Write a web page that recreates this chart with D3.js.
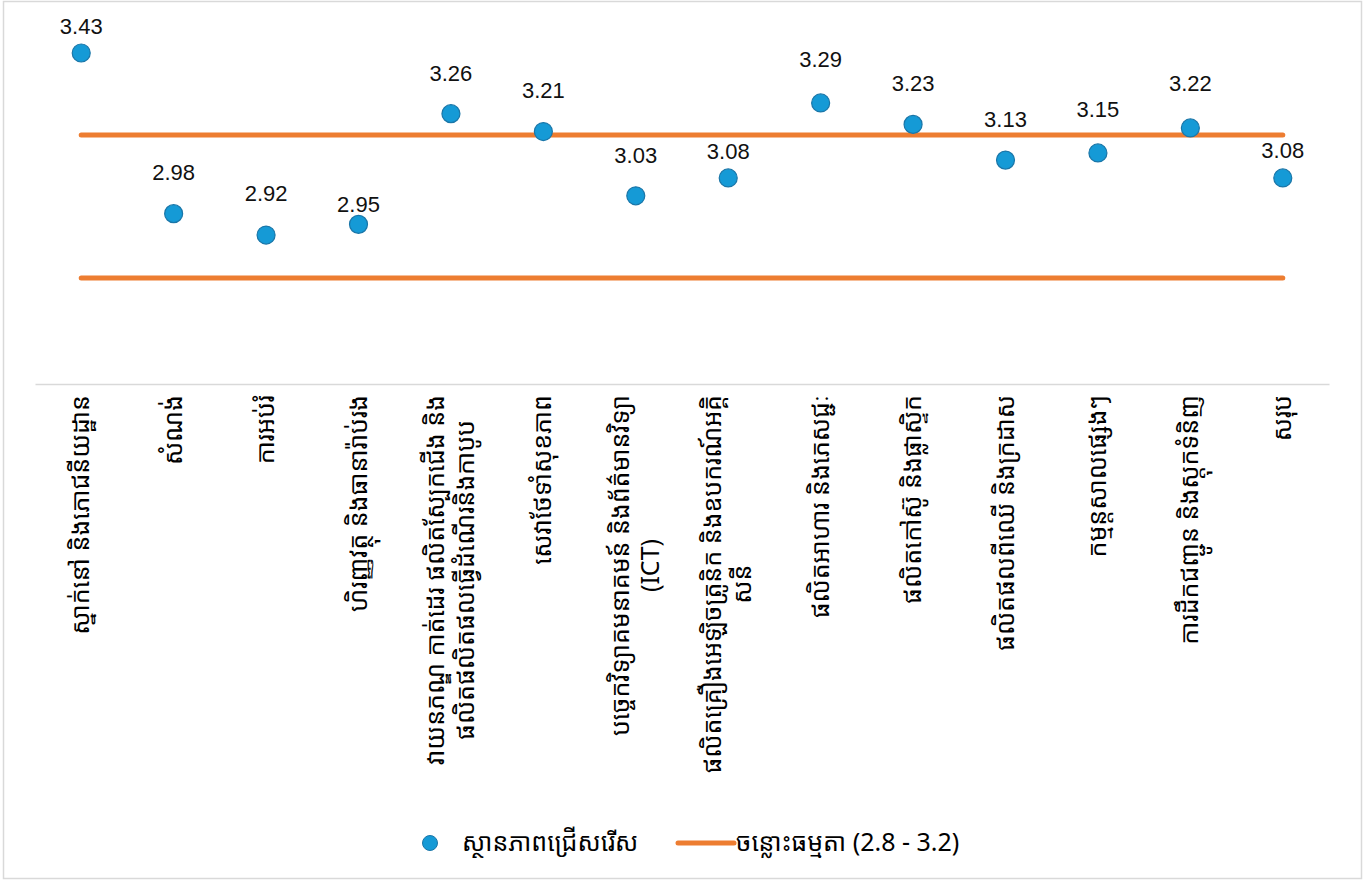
<!DOCTYPE html>
<html>
<head>
<meta charset="utf-8">
<script src="https://cdn.jsdelivr.net/npm/d3@7"></script>
<style>
  body { margin: 0; background: #fff; }
  svg { font-family: "Liberation Sans", Arial, sans-serif; }
</style>
</head>
<body>
<div id="chart"></div>
<script>
// sectors, read bottom-to-top on the rotated axis
var sectors = [
    ["ស្នាក់នៅ និងភោជនីយដ្ឋាន"],
    ["សំណង់"],
    ["ការអប់រំ"],
    ["ហិរញ្ញវត្ថុ និងធានារ៉ាប់រង"],
    ["វាយនភណ្ឌ កាត់ដេរ ផលិតស្បែកជើង និង", "ផលិតផលិតផលធ្វើដំណើរនិងកាបូប"],
    ["សេវាថែទាំសុខភាព"],
    ["បច្ចេកវិទ្យាគមនាគមន៍ និងព័ត៌មានវិទ្យា", "(ICT)"],
    ["ផលិតគ្រឿងអេឡិចត្រូនិក និងឧបករណ៍អគ្គិ", "សនី"],
    ["ផលិតអាហារ និងភេសជ្ជៈ"],
    ["ផលិតកៅស៊ូ និងផ្លាស្ទិក"],
    ["ផលិតផលពីឈើ និងក្រដាស"],
    ["កម្មន្តសាលផ្សេងៗ"],
    ["ការដឹកជញ្ជូន និងស្តុកទំនិញ"],
    ["សរុប"]
];
var scores = [3.43, 2.98, 2.92, 2.95, 3.26, 3.21, 3.03, 3.08, 3.29, 3.23, 3.13, 3.15, 3.22, 3.08];
// how far each value label sits above its dot (labels were hand-placed)
var labelLift = [19, 34, 34, 12, 33, 34, 33, 19, 36, 33, 33, 36, 37, 20];
var normalLow = 2.8;
var normalHigh = 3.2;
var legendDot = "ស្ថានភាពជ្រើសរើស";
var legendLine = "ចន្លោះធម្មតា (2.8 - 3.2)";

var width = 1367, height = 881;
var khmer = "'Noto Sans Khmer', 'Khmer OS', 'Noto Sans', sans-serif";

var svg = d3.select("#chart").append("svg")
    .attr("width", width)
    .attr("height", height);

svg.append("rect")
    .attr("x", 3.5).attr("y", 1.5)
    .attr("width", 1358).attr("height", 877)
    .attr("fill", "#fff")
    .attr("stroke", "#d9d9d9")
    .attr("stroke-width", 1.5);

var x = d3.scaleBand()
    .domain(d3.range(sectors.length))
    .range([35, 1329]);

var y = d3.scaleLinear()
    .domain([2.5, 3.5])
    .range([385, 28]);

// category axis
var xAxis = svg.append("g")
    .attr("transform", "translate(0," + (y(2.5) - 1) + ")")
    .call(d3.axisBottom(x).tickSize(0).tickFormat(""));
xAxis.select(".domain").attr("stroke", "#d9d9d9").attr("stroke-width", 1.5);

var labels = svg.append("g")
    .selectAll("text")
    .data(sectors)
    .enter()
    .append("text")
    .attr("transform", function(d, i) {
        return "translate(" + (x(i) + x.bandwidth() / 2) + ",395) rotate(-90)";
    })
    .style("font-family", khmer)
    .style("font-size", "25px")
    .attr("fill", "#000");

labels.each(function(d) {
    var g = d3.select(this);
    var first = g.append("tspan")
        .attr("x", 0)
        .attr("y", (-(d.length - 1) / 2) * 30 + 8)
        .attr("text-anchor", "end")
        .text(d[0]);
    var len = first.node().getComputedTextLength();
    for (var k = 1; k < d.length; k++) {
        g.append("tspan")
            .attr("x", -len / 2)
            .attr("y", (k - (d.length - 1) / 2) * 30 + 8)
            .attr("text-anchor", "middle")
            .text(d[k]);
    }
});

// normal range lines
var xFirst = x(0) + x.bandwidth() / 2;
var xLast = x(sectors.length - 1) + x.bandwidth() / 2;
[normalHigh, normalLow].forEach(function(v) {
    svg.append("line")
        .attr("x1", xFirst).attr("x2", xLast)
        .attr("y1", y(v)).attr("y2", y(v))
        .attr("stroke", "#ed7d31")
        .attr("stroke-width", 5)
        .attr("stroke-linecap", "round");
});

// points
svg.append("g")
    .selectAll("circle")
    .data(scores)
    .enter()
    .append("circle")
    .attr("cx", function(d, i) { return x(i) + x.bandwidth() / 2; })
    .attr("cy", function(d) { return y(d); })
    .attr("r", 9)
    .attr("fill", "#159ad6")
    .attr("stroke", "#1a76a8")
    .attr("stroke-width", 1.2);

svg.append("g")
    .selectAll("text")
    .data(scores)
    .enter()
    .append("text")
    .attr("x", function(d, i) { return x(i) + x.bandwidth() / 2; })
    .attr("y", function(d, i) { return y(d) - labelLift[i]; })
    .attr("text-anchor", "middle")
    .style("font-size", "22px")
    .style("font-weight", "normal")
    .attr("fill", "#111")
    .text(function(d) { return d.toFixed(2); });

// legend
var legend = svg.append("g");
legend.append("circle")
    .attr("cx", 430).attr("cy", 843).attr("r", 7.5)
    .attr("fill", "#159ad6").attr("stroke", "#1a76a8").attr("stroke-width", 1);
legend.append("text")
    .attr("x", 462).attr("y", 851)
    .style("font-family", khmer)
    .style("font-size", "25px")
    .text(legendDot);
legend.append("line")
    .attr("x1", 678).attr("x2", 734)
    .attr("y1", 843).attr("y2", 843)
    .attr("stroke", "#ed7d31").attr("stroke-width", 5).attr("stroke-linecap", "round");
legend.append("text")
    .attr("x", 736).attr("y", 851)
    .style("font-family", khmer)
    .style("font-size", "25px")
    .text(legendLine);
</script>
</body>
</html>
